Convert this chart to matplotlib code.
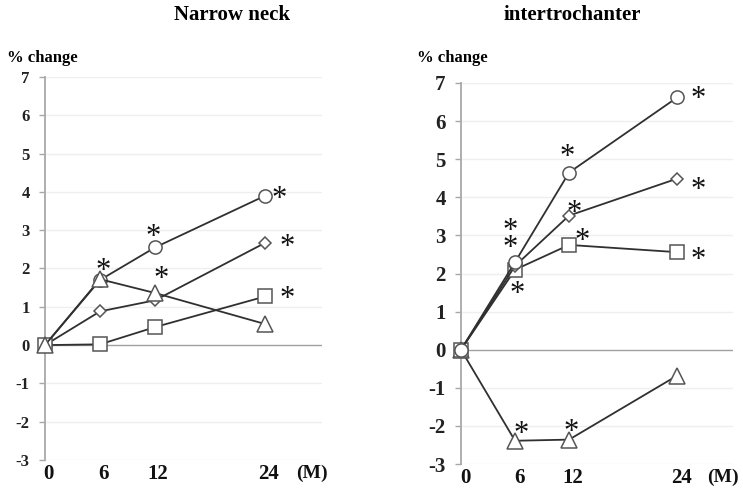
import matplotlib
matplotlib.use("Agg")
import matplotlib.pyplot as plt
import matplotlib.transforms as mtransforms

plt.rcParams["font.family"] = ["Liberation Serif", "DejaVu Serif"]
plt.rcParams["font.weight"] = "bold"

months = [0, 6, 12, 24]
xtick_labels = ["0", "6", "12", "24", "(M)"]
yticks = [-3, -2, -1, 0, 1, 2, 3, 4, 5, 6, 7]

# narrow neck, % change
neck_circle = [0, 1.70, 2.55, 3.90]
neck_diamond = [0, 0.88, 1.17, 2.67]
neck_square = [0, 0.02, 0.47, 1.27]
neck_triangle = [0, 1.72, 1.36, 0.55]

# intertrochanter, % change
troch_circle = [0, 2.30, 4.65, 6.62]
troch_diamond = [0, 2.20, 3.52, 4.49]
troch_square = [0, 2.10, 2.75, 2.56]
troch_triangle = [0, -2.39, -2.36, -0.68]

# significance stars: (series, month index, offset px)
neck_stars = [("circle", 1, (3, 15)), ("circle", 2, (-2, 17)), ("circle", 3, (14, 3)),
              ("diamond", 3, (22, 2)), ("triangle", 2, (6, 20)), ("square", 3, (22, 4))]
troch_stars = [("circle", 3, (21, 5)), ("circle", 2, (-2, 22)), ("diamond", 3, (21, -5)),
               ("diamond", 2, (5, 9)), ("square", 2, (13, 10)), ("square", 3, (21, -1)),
               ("circle", 1, (-5, 37)), ("diamond", 1, (-5, 24)), ("square", 1, (2, -18)),
               ("triangle", 1, (6, 13)), ("triangle", 2, (2, 14))]

W, H = 743, 491
fig = plt.figure(figsize=(W / 100, H / 100), dpi=100)

marker_style = {"circle": ("o", 9.5), "diamond": ("D", 6.3), "square": ("s", 9.5), "triangle": ("^", 11.5)}
STAR_FS = 22


def px(x0, y0, x1, y1):
    return [x0 / W, 1 - y1 / H, (x1 - x0) / W, (y1 - y0) / H]


def panel(rect, series, stars, title, title_x, ylab_x, ytick_size, xoff):
    ax = fig.add_axes(rect)
    ax.set_xlim(0, 30.2)
    ax.set_ylim(-3, 7)
    for s in ax.spines.values():
        s.set_visible(False)
    ax.spines["left"].set_visible(True)
    ax.spines["left"].set_color("#a8a8a8")
    ax.spines["left"].set_linewidth(1.3)
    ax.set_yticks(yticks)
    ax.set_yticklabels([str(v) for v in yticks], fontsize=ytick_size, fontweight="bold", color="#222")
    ax.tick_params(axis="y", length=4, color="#a8a8a8", width=1, pad=7)
    ax.set_xticks(months + [29.1])
    ax.set_xticklabels(xtick_labels, fontweight="bold", color="#111")
    ax.tick_params(axis="x", length=0, pad=3)
    shift = mtransforms.ScaledTranslation(xoff / 100, 0, fig.dpi_scale_trans)
    drop = mtransforms.ScaledTranslation(0, -1 / 100, fig.dpi_scale_trans)
    for lab in ax.get_xticklabels():
        if lab.get_text() == "(M)":
            lab.set_fontsize(14)
            lab.set_transform(lab.get_transform() + drop)
        else:
            lab.set_fontsize(15)
            lab.set_transform(lab.get_transform() + shift)
    for v in yticks:
        if v != 0:
            ax.axhline(v, color="#efefef", lw=1, zorder=0)
    ax.axhline(0, color="#a0a0a0", lw=1, zorder=1)

    for name, vals in series:
        m, ms = marker_style[name]
        ax.plot(months, vals, color="#303030", lw=1.3, marker=m, markersize=ms,
                markerfacecolor="white", markeredgecolor="#555555", markeredgewidth=1.1,
                clip_on=False, zorder=3)
    lookup = dict(series)
    for name, i, (dx, dy) in stars:
        ax.annotate("*", (months[i], lookup[name][i]), xytext=(dx, dy - 0.47 * STAR_FS * 1.389),
                    textcoords="offset pixels", ha="center", va="baseline",
                    fontsize=STAR_FS, fontweight="normal", color="#111")
    fig.text(title_x / W, 1 - 15 / H, title, ha="center", va="center", fontsize=15, fontweight="bold")
    fig.text(ylab_x / W, 1 - 58 / H, "% change", ha="center", va="center", fontsize=12, fontweight="bold")
    return ax


panel(px(45, 77, 322, 460),
      [("circle", neck_circle), ("diamond", neck_diamond), ("square", neck_square), ("triangle", neck_triangle)],
      neck_stars, "Narrow neck", 232, 42, 12, 3)
panel(px(461, 83, 733, 464),
      [("triangle", troch_triangle), ("square", troch_square), ("diamond", troch_diamond), ("circle", troch_circle)],
      troch_stars, "intertrochanter", 572, 452, 15, 4)

fig.savefig("out.png", dpi=100)
